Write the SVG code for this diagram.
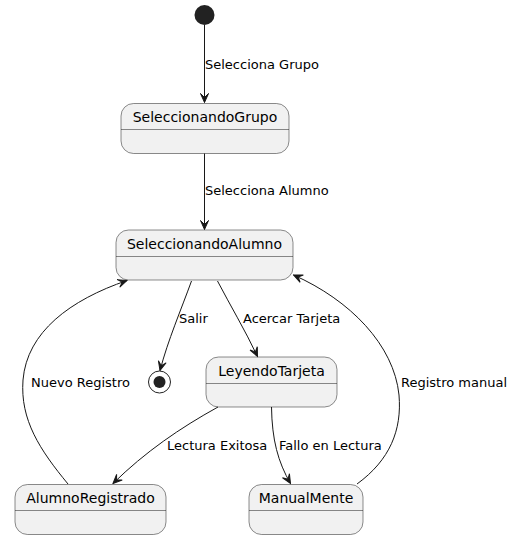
<svg xmlns="http://www.w3.org/2000/svg" width="513" height="539" viewBox="0 0 513 539">
<style>
.st{fill:#F1F1F1;stroke:#181818;stroke-width:0.5}
.dv{stroke:#181818;stroke-width:0.5}
.nm{font-family:"DejaVu Sans",sans-serif;font-size:14px;fill:#000;text-anchor:middle}
.lb{font-family:"DejaVu Sans",sans-serif;font-size:13px;fill:#000}
.ed{fill:none;stroke:#181818;stroke-width:1}
</style>
<defs>
<marker id="ah" viewBox="-10 -5 11 10" refX="0" refY="0" markerWidth="11" markerHeight="10" markerUnits="userSpaceOnUse" orient="auto">
<path d="M0,0 L-9,-4 L-5,0 L-9,4 Z" fill="#181818" stroke="#181818" stroke-width="1"/>
</marker>
</defs>
<rect width="513" height="539" fill="#FFFFFF"/>
<g id="start"><circle cx="204.5" cy="15" r="10" fill="#222222"/></g>
<g id="end"><circle cx="159.5" cy="382" r="11" fill="none" stroke="#222222" stroke-width="1"/><circle cx="159.5" cy="382" r="6" fill="#222222"/></g>
<g id="SeleccionandoGrupo">
<rect class="st" x="121" y="103.5" width="168" height="50" rx="12.5"/>
<line class="dv" x1="121" y1="129.5" x2="289" y2="129.5"/>
<text class="nm" x="205" y="122">SeleccionandoGrupo</text>
</g>
<g id="SeleccionandoAlumno">
<rect class="st" x="116" y="230" width="177" height="50" rx="12.5"/>
<line class="dv" x1="116" y1="256.5" x2="293" y2="256.5"/>
<text class="nm" x="204.5" y="248.5">SeleccionandoAlumno</text>
</g>
<g id="LeyendoTarjeta">
<rect class="st" x="206" y="357" width="131" height="50" rx="12.5"/>
<line class="dv" x1="206" y1="383.5" x2="337" y2="383.5"/>
<text class="nm" x="271.5" y="375.5">LeyendoTarjeta</text>
</g>
<g id="AlumnoRegistrado">
<rect class="st" x="15" y="484.5" width="151" height="50" rx="12.5"/>
<line class="dv" x1="15" y1="510.5" x2="166" y2="510.5"/>
<text class="nm" x="90.5" y="503">AlumnoRegistrado</text>
</g>
<g id="ManualMente">
<rect class="st" x="249" y="484.5" width="114" height="50" rx="12.5"/>
<line class="dv" x1="249" y1="510.5" x2="363" y2="510.5"/>
<text class="nm" x="306" y="503">ManualMente</text>
</g>
<g id="connectors">
<path class="ed" d="M204.5,25 L204.5,102.5" marker-end="url(#ah)"/>
<path class="ed" d="M204.5,153.5 L204.5,229.5" marker-end="url(#ah)"/>
<path class="ed" d="M191.5,281 C181,310 168,340 160,370.5" marker-end="url(#ah)"/>
<path class="ed" d="M217.5,281 C230,305 245,330 257.5,356.5" marker-end="url(#ah)"/>
<path class="ed" d="M218,407 C180,428 145,452 113,483.5" marker-end="url(#ah)"/>
<path class="ed" d="M271.5,407 C272,440 278,462 290.5,483.5" marker-end="url(#ah)"/>
<path class="ed" d="M68,484 C40,450 20,420 23,380 C27,332 70,300 127,280.5" marker-end="url(#ah)"/>
<path class="ed" d="M357,484 C390,460 402,430 399,395 C394,345 350,300 293.5,275" marker-end="url(#ah)"/>
<text class="lb" x="205" y="69">Selecciona Grupo</text>
<text class="lb" x="205" y="195">Selecciona Alumno</text>
<text class="lb" x="179" y="323">Salir</text>
<text class="lb" x="243" y="323">Acercar Tarjeta</text>
<text class="lb" x="31" y="387">Nuevo Registro</text>
<text class="lb" x="401" y="387">Registro manual</text>
<text class="lb" x="167" y="450">Lectura Exitosa</text>
<text class="lb" x="279" y="450">Fallo en Lectura</text>
</g>
</svg>
